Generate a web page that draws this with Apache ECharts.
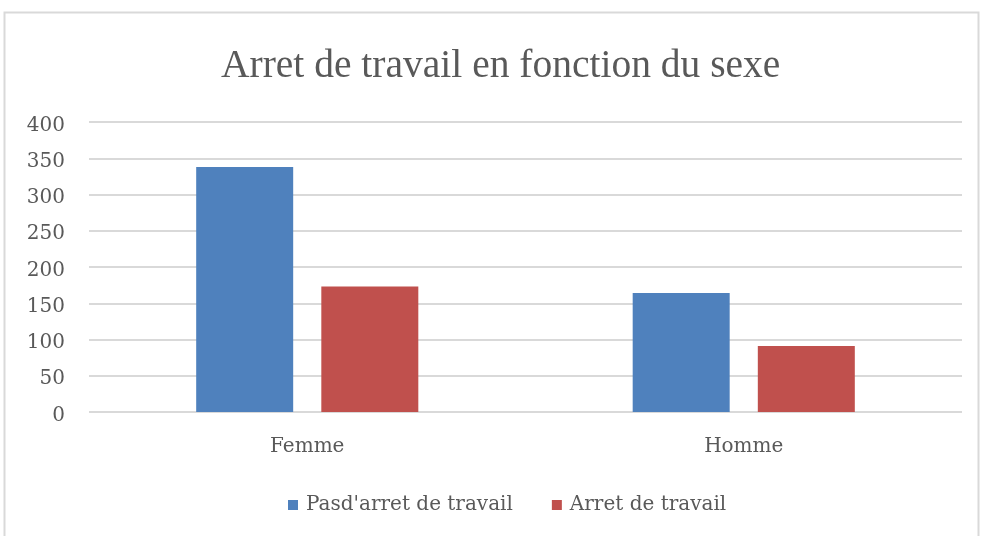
<!DOCTYPE html>
<html><head><meta charset="utf-8">
<script src="https://cdn.jsdelivr.net/npm/echarts@6/dist/echarts.min.js"></script>
<style>html,body{margin:0;padding:0;background:#fff}#c{width:981px;height:536px}</style>
</head><body><div id="c"></div>
<script>
const categories = ['Femme', 'Homme'];
const seriesNames = ["Pasd'arret de travail", 'Arret de travail'];
const pasArret = [338, 164];
const arret = [173, 91];
const yTicks = { min: 0, max: 400, interval: 50 };

const font = '"DejaVu Serif", "Liberation Serif", serif';
const titleFont = '"Liberation Serif", "DejaVu Serif", serif';
const chart = echarts.init(document.getElementById('c'));
chart.setOption({
  animation: false,
  backgroundColor: '#fff',
  graphic: [{ type: 'rect', shape: { x: 4.5, y: 12.5, width: 974, height: 540 },
    style: { fill: 'none', stroke: '#d9d9d9', lineWidth: 2 }, silent: true }],
  title: { text: 'Arret de travail en fonction du sexe', left: 216, top: 42,
    textStyle: { fontFamily: titleFont, fontSize: 39.5, fontWeight: 'normal', color: '#595959' } },
  legend: { bottom: 16, left: 283, itemWidth: 10, itemHeight: 10, itemGap: 39,
    icon: 'rect', data: seriesNames,
    textStyle: { fontFamily: font, fontSize: 20, color: '#595959', padding: [0, 0, 0, 3] } },
  grid: { left: 89, right: 19, top: 122, bottom: 124 },
  xAxis: { type: 'category', data: categories,
    axisLine: { show: false }, axisTick: { show: false },
    axisLabel: { fontFamily: font, fontSize: 20, color: '#595959', margin: 25 } },
  yAxis: { type: 'value', min: yTicks.min, max: yTicks.max, interval: yTicks.interval,
    axisLine: { show: false }, axisTick: { show: false },
    axisLabel: { fontFamily: font, fontSize: 20, color: '#595959', margin: 24,
      verticalAlign: 'top', lineHeight: 7 },
    splitLine: { lineStyle: { color: '#d9d9d9', width: 2 } } },
  series: [
    { name: seriesNames[0], type: 'bar', data: pasArret, barWidth: 97, barGap: '29%',
      itemStyle: { color: '#4f81bd' } },
    { name: seriesNames[1], type: 'bar', data: arret, barWidth: 97, barGap: '29%',
      itemStyle: { color: '#c0504d' } }
  ]
});
</script></body></html>
